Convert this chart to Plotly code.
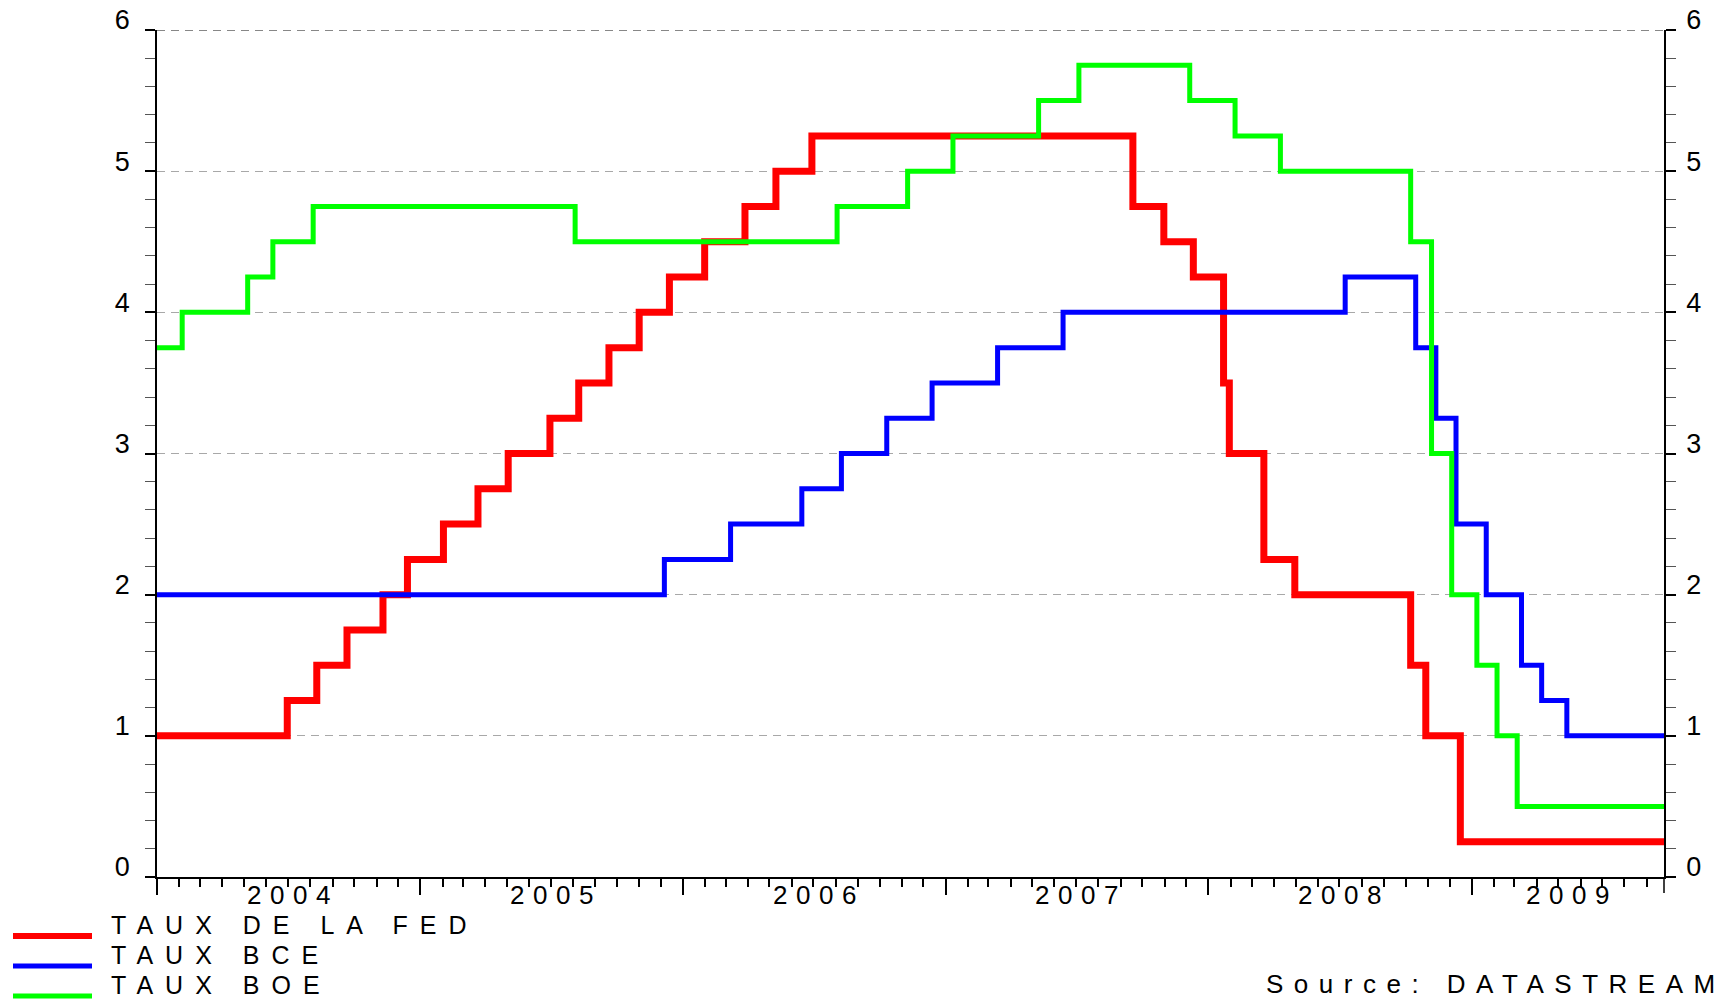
import pandas as pd
import plotly.graph_objects as go

# ---------------- data (policy rates, %) ----------------
fed_dates = ["2004-01-01", "2004-06-30", "2004-08-10", "2004-09-21", "2004-11-10", "2004-12-14",
             "2005-02-02", "2005-03-22", "2005-05-03", "2005-06-30", "2005-08-09", "2005-09-20",
             "2005-11-01", "2005-12-13", "2006-01-31", "2006-03-28", "2006-05-10", "2006-06-29",
             "2007-09-18", "2007-10-31", "2007-12-11", "2008-01-22", "2008-01-30", "2008-03-18",
             "2008-04-30", "2008-10-08", "2008-10-29", "2008-12-16", "2009-09-25"]
fed_rates = [1.00, 1.25, 1.50, 1.75, 2.00, 2.25,
             2.50, 2.75, 3.00, 3.25, 3.50, 3.75,
             4.00, 4.25, 4.50, 4.75, 5.00, 5.25,
             4.75, 4.50, 4.25, 3.50, 3.00, 2.25,
             2.00, 1.50, 1.00, 0.25, 0.25]

ecb_dates = ["2004-01-01", "2005-12-06", "2006-03-08", "2006-06-15", "2006-08-09", "2006-10-11",
             "2006-12-13", "2007-03-14", "2007-06-13", "2008-07-09", "2008-10-15", "2008-11-12",
             "2008-12-10", "2009-01-21", "2009-03-11", "2009-04-08", "2009-05-13", "2009-09-25"]
ecb_rates = [2.00, 2.25, 2.50, 2.75, 3.00, 3.25,
             3.50, 3.75, 4.00, 4.25, 3.75, 3.25,
             2.50, 2.00, 1.50, 1.25, 1.00, 1.00]

boe_dates = ["2004-01-01", "2004-02-05", "2004-05-06", "2004-06-10", "2004-08-05", "2005-08-04",
             "2006-08-03", "2006-11-09", "2007-01-11", "2007-05-10", "2007-07-05", "2007-12-06",
             "2008-02-07", "2008-04-10", "2008-10-08", "2008-11-06", "2008-12-04", "2009-01-08",
             "2009-02-05", "2009-03-05", "2009-09-25"]
boe_rates = [3.75, 4.00, 4.25, 4.50, 4.75, 4.50,
             4.75, 5.00, 5.25, 5.50, 5.75, 5.50,
             5.25, 5.00, 4.50, 3.00, 2.00, 1.50,
             1.00, 0.50, 0.50]

series_names = ["TAUX DE LA FED", "TAUX BCE", "TAUX BOE"]
year_labels = ["2004", "2005", "2006", "2007", "2008", "2009"]
x_range = ["2004-01-01", "2009-09-25"]
y_range = [0, 6]
source_text = "Source: DATASTREAM"

# ---------------- layout geometry ----------------
W, H = 1717, 999
L, R, T, B = 157, 1664, 30, 877
PW, PH = R - L, B - T
FONT = "Liberation Sans"
FS = 27
RED, BLUE, GREEN = "#ff0000", "#0000ff", "#00ff00"

fig = go.Figure()
fig.add_trace(go.Scatter(x=fed_dates, y=fed_rates, mode="lines", line_shape="hv",
                         line=dict(color=RED, width=7), name=series_names[0]))
fig.add_trace(go.Scatter(x=ecb_dates, y=ecb_rates, mode="lines", line_shape="hv",
                         line=dict(color=BLUE, width=5), name=series_names[1]))
fig.add_trace(go.Scatter(x=boe_dates, y=boe_rates, mode="lines", line_shape="hv",
                         line=dict(color=GREEN, width=5), name=series_names[2], yaxis="y2"))

ytick_common = dict(
    range=y_range, dtick=1, tick0=0, ticks="outside", ticklen=10, tickwidth=1.5,
    tickcolor="black", showline=True, linecolor="black", linewidth=1.5,
    zeroline=False, ticklabelposition="outside", ticklabelshift=-10,
    ticklabeloverflow="allow",
    tickfont=dict(family=FONT, size=FS, color="black"),
    minor=dict(dtick=0.2, ticks="outside", ticklen=10, tickwidth=1.2,
               tickcolor="#555555", showgrid=False),
    fixedrange=True,
)

fig.update_layout(
    width=W, height=H,
    margin=dict(l=L, r=W - R, t=T, b=H - B, autoexpand=False),
    plot_bgcolor="white", paper_bgcolor="white",
    showlegend=False,
    font=dict(family=FONT, size=FS, color="black"),
    xaxis=dict(
        type="date", range=x_range, showgrid=False, zeroline=False,
        showline=True, linecolor="black", linewidth=2,
        dtick="M12", tick0="2004-01-01", ticks="outside", ticklen=16, tickwidth=2,
        tickcolor="black", showticklabels=False,
        minor=dict(dtick="M1", tick0="2004-01-01", ticks="outside", ticklen=8,
                   tickwidth=1.5, tickcolor="black", showgrid=False),
    ),
    yaxis=dict(side="left", showgrid=True, gridcolor="#a8a8a8", gridwidth=1,
               griddash="8px,6px", ticklabelstandoff=10, **ytick_common),
    yaxis2=dict(side="right", overlaying="y", showgrid=False, ticklabelstandoff=5,
                **ytick_common),
)

# darker dashed line at the top of the frame
fig.add_shape(type="line", xref="paper", x0=0, x1=1, yref="y", y0=y_range[1], y1=y_range[1],
              line=dict(color="#606060", width=1.5, dash="8px,6px"))
# right frame extends below the time axis
fig.add_shape(type="line", xref="paper", x0=1, x1=1, yref="paper", y0=0, y1=-16 / PH,
              line=dict(color="black", width=1.5))

# year labels centered in each (visible part of the) year
SP = 8.5
r0, r1 = pd.Timestamp(x_range[0]), pd.Timestamp(x_range[1])
for yl in year_labels:
    a = max(pd.Timestamp(f"{yl}-01-01"), r0)
    b = min(pd.Timestamp(f"{int(yl) + 1}-01-01"), r1)
    mid = a + (b - a) / 2
    fig.add_annotation(x=mid, xref="x", y=0, yref="paper", yshift=-(895 - B), yanchor="middle",
                       xanchor="center", xshift=SP / 2, showarrow=False, borderpad=0,
                       text=f'<span style="letter-spacing:{SP}px">{yl}</span>',
                       font=dict(family=FONT, size=26, color="black"))

# manual legend
leg_line_y = [936, 966, 996]
leg_text_y = [925, 955, 984.5]
leg_colors = [RED, BLUE, GREEN]
leg_widths = [6, 5, 5]
for name, ly, ty, c, w in zip(series_names, leg_line_y, leg_text_y, leg_colors, leg_widths):
    fig.add_shape(type="line", xref="paper", yref="paper",
                  x0=(13 - L) / PW, x1=(92 - L) / PW, y0=(B - ly) / PH, y1=(B - ly) / PH,
                  line=dict(color=c, width=w))
    fig.add_annotation(x=0, xref="paper", xshift=110 - L, xanchor="left",
                       y=0, yref="paper", yshift=-(ty - B), yanchor="middle",
                       showarrow=False, borderpad=0,
                       text=f'<span style="letter-spacing:12px">{name}</span>',
                       font=dict(family=FONT, size=25, color="black"))

fig.add_annotation(x=0, xref="paper", xshift=1265 - L, xanchor="left",
                   y=0, yref="paper", yshift=-(984 - B), yanchor="middle",
                   showarrow=False, borderpad=0,
                   text=f'<span style="letter-spacing:10.5px">{source_text}</span>',
                   font=dict(family=FONT, size=26, color="black"))

fig.write_html("out.html", config={"displayModeBar": False},
               post_script="document.body.style.margin='0';document.body.style.overflow='hidden';")
